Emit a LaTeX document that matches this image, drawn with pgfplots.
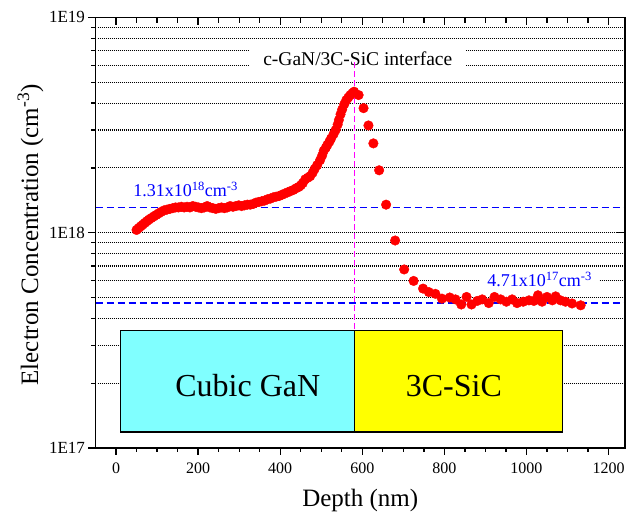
\documentclass[border=0pt]{standalone}
\usepackage{fontspec}
\setmainfont{Liberation Serif}
\usepackage{pgfplots}
\pgfplotsset{compat=1.18}
\definecolor{gancyan}{RGB}{128,255,255}
\definecolor{sicyellow}{RGB}{255,255,0}
\definecolor{refblue}{RGB}{0,0,255}
\definecolor{refmagenta}{RGB}{255,0,255}

\newcommand{\fs}[1]{\fontsize{#1}{#1}\selectfont}

\begin{document}
\begin{tikzpicture}
\path[use as bounding box] (-95.5pt,-64pt) rectangle (530.5pt,448pt);

% main axis: bottom and left, ticks outside
\begin{axis}[
  scale only axis, width=529.5pt, height=430.5pt,
  xmin=-50, xmax=1240,
  ymode=log, ymin=1e17, ymax=1e19,
  axis line style={line width=1.3pt},
  tick style={black, line width=1.3pt},
  xtick={0,200,...,1200}, minor x tick num=3,
  ytick={1e17,1e18,1e19}, yticklabels={1E17,1E18,1E19},
  tick pos=left, tick align=outside,
  major tick length=7pt, minor tick length=4pt,
  yminorgrids,
  minor grid style={black, line width=1.1pt, dash pattern=on 1pt off 1pt},
  /pgf/number format/assume math mode=true,
  /pgf/number format/1000 sep={},
  xticklabel style={font=\fs{16}, yshift=-4pt},
  yticklabel style={font=\fs{17}},
  xlabel={Depth (nm)},
  ylabel={Electron Concentration (cm\textsuperscript{-3})},
  label style={font=\fs{25}},
  xlabel style={at={(axis description cs:0.5,-0.137)}, anchor=base},
  ylabel style={at={(axis description cs:-0.1229,0.495)}, anchor=center},
]
\draw[line width=1.2pt, fill=gancyan] (axis cs:11.4,1.187e17) rectangle (axis cs:581,3.527e17);
\draw[line width=1.2pt, fill=sicyellow] (axis cs:581,1.187e17) rectangle (axis cs:1088.6,3.527e17);
\node[anchor=base, font=\fs{32}] at (axis cs:321,1.727e17) {Cubic GaN};
\node[anchor=base, font=\fs{32}] at (axis cs:823,1.727e17) {3C-SiC};

\node[anchor=base, font=\fs{19.5}, fill=white, inner xsep=14pt, inner ysep=3pt] at (axis cs:589,6.01e18) {c-GaN/3C-SiC interface};
\node[anchor=base, font=\fs{18}, text=refblue] at (axis cs:169.5,1.467e18) {1.31x10\textsuperscript{18}cm\textsuperscript{-3}};
\node[anchor=base, font=\fs{18}, text=refblue, fill=white, inner xsep=7pt, inner ysep=3pt] at (axis cs:1032,5.63e17) {4.71x10\textsuperscript{17}cm\textsuperscript{-3}};

\addplot[only marks, mark=*, mark size=4.8pt, color=red, mark options={fill=red, draw=red}] coordinates {
(50,1.03e18)(55,1.05e18)(60,1.07e18)(65,1.09e18)(70,1.11e18)(75,1.13e18)(80,1.15e18)
(86,1.17e18)(92,1.19e18)(98,1.21e18)(104,1.23e18)(110,1.25e18)(117,1.27e18)(124,1.28e18)
(131,1.29e18)(138,1.30e18)(145,1.31e18)(152,1.31e18)(159,1.32e18)(166,1.31e18)(173,1.32e18)
(180,1.31e18)(187,1.33e18)(194,1.32e18)(201,1.31e18)(208,1.30e18)(215,1.31e18)(222,1.33e18)
(229,1.31e18)(236,1.30e18)(243,1.29e18)(250,1.30e18)(257,1.31e18)(264,1.30e18)(271,1.31e18)
(278,1.33e18)(285,1.32e18)(292,1.33e18)(299,1.34e18)(306,1.33e18)(313,1.34e18)(320,1.35e18)
(327,1.35e18)(334,1.36e18)(341,1.38e18)(348,1.39e18)(355,1.40e18)(362,1.41e18)(369,1.43e18)
(376,1.44e18)(383,1.46e18)(390,1.47e18)(397,1.48e18)(404,1.50e18)(411,1.52e18)(418,1.54e18)
(425,1.56e18)(432,1.58e18)(439,1.61e18)(445,1.63e18)(450,1.66e18)(455,1.70e18)(461,1.77e18)
(467,1.80e18)(473,1.83e18)(479,1.90e18)(484,1.98e18)(490,2.06e18)(497,2.17e18)(502,2.28e18)
(506,2.40e18)(511,2.48e18)(515,2.56e18)(520,2.65e18)(524,2.74e18)(530,2.87e18)(535,3.00e18)
(540,3.18e18)(543,3.34e18)(547,3.55e18)(551,3.74e18)(556,3.95e18)(561,4.13e18)(566,4.25e18)
(571,4.36e18)(576,4.45e18)(580,4.52e18)
(591,4.36e18)(603,3.79e18)(615,3.15e18)(627,2.60e18)(641,1.95e18)(658,1.35e18)(680,9.2e17)
(702,6.75e17)(725,5.97e17)(748,5.5e17)(762,5.3e17)(778,5.2e17)(794,4.94e17)(813,5.0e17)
(827,4.9e17)(841,4.64e17)(854,5.03e17)(866,4.64e17)(880,4.82e17)(892,4.9e17)(908,4.71e17)
(922,5.03e17)(937,4.9e17)(951,4.78e17)(965,4.9e17)(977,4.71e17)(992,4.78e17)(1006,4.85e17)
(1018,4.82e17)(1028,5.12e17)(1038,4.78e17)(1050,5.03e17)(1063,4.85e17)(1071,5.06e17)
(1083,4.85e17)(1095,4.78e17)(1111,4.69e17)(1132,4.60e17)
};

\addplot[draw=refblue, line width=1.5pt, dash pattern=on 7pt off 4pt] coordinates {(-50,4.71e17) (1240,4.71e17)};
\addplot[draw=refblue, line width=1.5pt, dash pattern=on 7pt off 4pt] coordinates {(-50,1.31e18) (1240,1.31e18)};
\addplot[draw=refmagenta, line width=1.5pt, dash pattern=on 6pt off 3pt] coordinates {(581,6.2e18) (581,3.527e17)};
\end{axis}

% second axis: top and right, ticks inside
\begin{axis}[
  scale only axis, width=529.5pt, height=430.5pt,
  xmin=-50, xmax=1240,
  ymode=log, ymin=1e17, ymax=1e19,
  axis line style={line width=1.3pt},
  tick style={black, line width=1.3pt},
  xtick={0,200,...,1200}, minor x tick num=3,
  ytick={1e17,1e18,1e19}, yminorticks=false,
  xticklabels={}, yticklabels={},
  tick pos=right, tick align=inside,
  major tick length=8pt, minor tick length=6pt,
]
\end{axis}
\end{tikzpicture}
\end{document}
